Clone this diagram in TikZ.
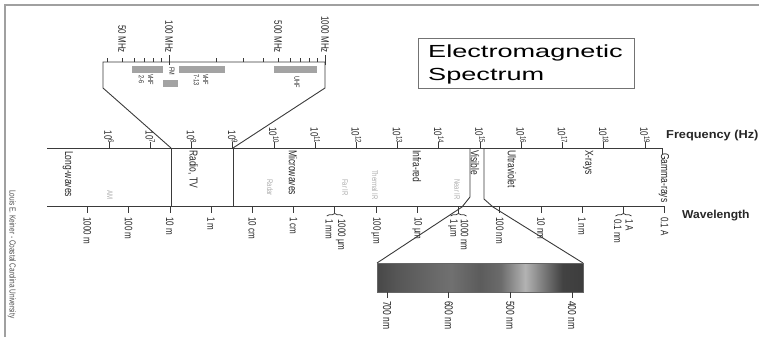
\documentclass[tikz,border=0pt]{standalone}
\usepackage{fontspec}
\setmainfont{Liberation Sans}
\usepackage{graphicx}
\usepackage{tikz}
\usetikzlibrary{positioning,calc,decorations.pathreplacing}
\definecolor{axisgray}{HTML}{3A3A3A}
\definecolor{framegray}{HTML}{A0A0A0}
\definecolor{bargray}{HTML}{A3A3A3}
\definecolor{subgray}{HTML}{ADADAD}
\definecolor{textgray}{HTML}{262626}
\newcommand{\vtxt}[1]{\scalebox{1}[1.35]{#1}}
\pgfdeclarehorizontalshading{visible}{100bp}{color(0bp)=(black!72); color(25bp)=(black!72); color(30bp)=(black!66); color(40bp)=(black!58); color(43bp)=(black!56); color(50bp)=(black!64); color(55bp)=(black!58); color(61bp)=(black!30); color(65bp)=(black!50); color(70bp)=(black!74); color(75bp)=(black!76); color(100bp)=(black!76)}

\begin{document}
\begin{tikzpicture}[x=1pt,y=-1pt,
  axis/.style={draw=axisgray,line width=0.9pt},
  tick/.style={draw=axisgray,line width=0.8pt},
  band/.style={rotate=-90,anchor=west,inner sep=0pt,text=textgray,font=\fontsize{8.5}{9}\selectfont},
  sublab/.style={rotate=-90,anchor=east,inner sep=0pt,text=subgray,font=\fontsize{6}{6}\selectfont},
  freqlab/.style={rotate=-90,anchor=east,inner sep=0pt,text=textgray,font=\fontsize{8}{8}\selectfont},
  wavelab/.style={rotate=-90,anchor=west,inner sep=0pt,text=textgray,font=\fontsize{8}{8}\selectfont},
  barlab/.style={rotate=-90,inner sep=0pt,text=textgray,font=\fontsize{5.5}{5.5}\selectfont},
  axistitle/.style={anchor=base west,inner sep=0pt,text=textgray,font=\fontsize{11.5}{12}\selectfont\bfseries}
]
  \useasboundingbox (0,0) rectangle (759,337);
  % frame
  \draw[framegray,line width=1.5pt] (5,337) -- (5,5) -- (759,5);
  \node[rotate=-90,anchor=west,inner sep=0pt,text=black!70,font=\fontsize{6.5}{7}\selectfont] (credit) at (12,190) {\vtxt{Louis E. Keiner - Coastal Carolina University}};

  % title
  \node[draw=black!55,line width=0.8pt,anchor=north west,minimum width=216pt,minimum height=50pt,inner sep=0pt] (titlebox) at (418,38) {};
  \node[anchor=base west,inner sep=0pt,font=\fontsize{17.5}{18}\selectfont] (title1) at (428,57.5) {\scalebox{1.55}[1]{Electromagnetic}};
  \node[anchor=base west,inner sep=0pt,font=\fontsize{17.5}{18}\selectfont] (title2) at (428,80) {\scalebox{1.55}[1]{Spectrum}};

  % axes
  \coordinate (ftl) at (47,148);
  \coordinate (ftr) at (662,148);
  \coordinate (wbl) at (47,206);
  \coordinate (wbr) at (664.6,206);
  \draw[axis] (ftl) -- (ftr) -- ++(0,6);
  \draw[axis] (wbl) -- (wbr);
  \node[axistitle] (freq) at (666,138) {\scalebox{1.11}[1]{Frequency (Hz)}};
  \node[axistitle] (wave) at (682,218) {\scalebox{1.05}[1]{Wavelength}};

  % frequency ticks
  \foreach \n in {6,...,19}{
    \draw[tick] ({109+41.23*(\n-6)},148) -- ++(0,-6);
    \node[freqlab] (f\n) at ({109+41.23*(\n-6)},143.5) {\vtxt{10\textsuperscript{\n}}};
  }

  % wavelength ticks
  \foreach \k/\lab [count=\i] in {3/1000 m,2/100 m,1/10 m,0/1 m,-1/10 cm,-2/1 cm,-4/100 µm,-5/10 µm,-7/100 nm,-8/10 nm,-9/1 nm,-11/0.1 A}{
    \draw[tick] ({109+41.23*(2.477-\k)},206) -- ++(0,7);
    \node[wavelab] (w\i) at ({109+41.23*(2.477-\k)},217) {\vtxt{\lab}};
  }
  \foreach \k/\a/\b [count=\i] in {-3/1 mm/1000 µm,-6/1 µm/1000 nm,-10/0.1 nm/1 A}{
    \coordinate (br\i) at ({109+41.23*(2.477-\k)},206);
    \draw[tick] (br\i) -- ++(0,7);
    \draw[tick,decorate,decoration={brace,amplitude=2.5pt}] ($(br\i)+(-8,216-206)$) -- ($(br\i)+(8,216-206)$);
    \node[wavelab] (bra\i) at ($(br\i)+(-5.5,219-206)$) {\vtxt{\a}};
    \node[wavelab] (brb\i) at ($(br\i)+(6,219-206)$) {\vtxt{\b}};
  }

  % region boundaries
  \draw[axis] (171,148) -- (171,206);
  \draw[axis] (233,148) -- (233,206);
  \draw[axis] (470,148) -- (470,197) -- (462,207) -- (377,263);
  \draw[axis] (484,148) -- (484,199) -- (493,207) -- (583,263);

  % band names
  \node[band] (lw) at (68,151) {\vtxt{Long-waves}};
  \node[band] (radio) at (193,150) {\vtxt{Radio, TV}};
  \node[band] (micro) at (293,150) {\vtxt{Microwaves}};
  \node[band] (ir) at (417,150) {\vtxt{Infra-red}};
  \node[band] (vis) at (475,150) {\vtxt{Visible}};
  \node[band] (uv) at (512,150) {\vtxt{Ultraviolet}};
  \node[band] (xray) at (588,150) {\vtxt{X-rays}};
  \node[band] (gamma) at (664,153) {\vtxt{Gamma-rays}};
  \node[sublab] (am) at (110,200) {\vtxt{AM}};
  \node[sublab] (radar) at (270,196) {\vtxt{Radar}};
  \node[sublab] (farir) at (345,196) {\vtxt{Far IR}};
  \node[sublab] (thermir) at (375,200) {\vtxt{Thermal IR}};
  \node[sublab] (nearir) at (457,200) {\vtxt{Near IR}};

  % radio inset
  \draw[axis] (171,148) -- (103,88) -- (103,62) -- (325,62) -- (325,88) -- (233,148);
  \foreach \f in {40,50,...,90,200,300,...,900}{
    \draw[tick] ({169+156*log10(\f/100)},62) -- ++(0,-4);
  }
  \foreach \f in {100,1000}{
    \draw[tick] ({169+156*log10(\f/100)},65) -- ++(0,-10);
  }
  \foreach \f in {50,100,500,1000}{
    \node[freqlab] (mhz\f) at ({169+156*log10(\f/100)},53) {\vtxt{\f\ MHz}};
  }
  \fill[bargray] (132,66) rectangle (163,73);
  \fill[bargray] (163,80) rectangle (178,87);
  \fill[bargray] (179,66) rectangle (225,73);
  \fill[bargray] (274,66) rectangle (317,73);
  \node[barlab,anchor=west] (vhfa) at (146,74) {\vtxt{\shortstack{VHF\\2-6}}};
  \node[barlab,anchor=west] (fm) at (172,67) {\vtxt{FM}};
  \node[barlab,anchor=west] (vhfb) at (201,74) {\vtxt{\shortstack{VHF\\7-13}}};
  \node[barlab,anchor=west] (uhf) at (297,76) {\vtxt{UHF}};

  % visible inset
  \shade[shading=visible,draw=black!60,line width=0.8pt] (377,263) rectangle (583,292);
  \foreach \l in {700,600,500,400}{
    \draw[tick] ({387+0.617*(700-\l)},292) -- ++(0,6);
    \node[wavelab,font=\fontsize{8.5}{9}\selectfont] (nm\l) at ({387+0.617*(700-\l)},301) {\vtxt{\l\ nm}};
  }
\end{tikzpicture}
\end{document}
